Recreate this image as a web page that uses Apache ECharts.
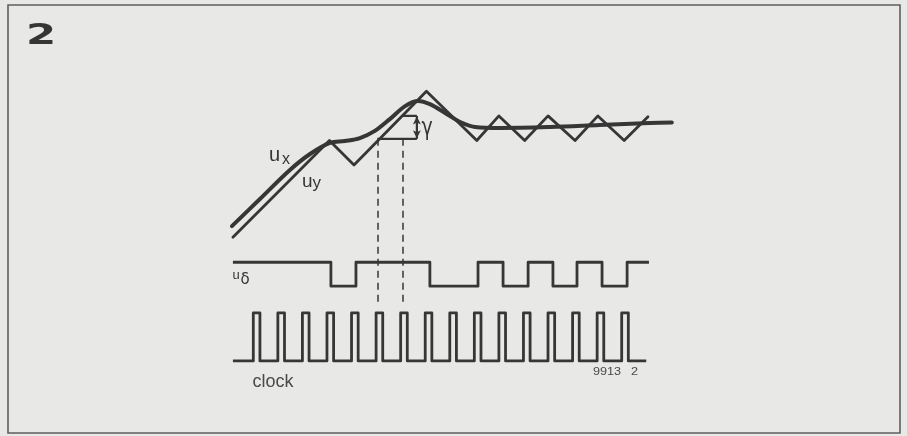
<!DOCTYPE html>
<html>
<head>
<meta charset="utf-8">
<script src="https://cdn.jsdelivr.net/npm/echarts/dist/echarts.min.js"></script>
<style>
  html, body { margin: 0; padding: 0; background: #e8e8e6; }
  #chart { width: 907px; height: 436px; }
</style>
</head>
<body>
<div id="chart"></div>
<script>
// time axis in clock periods, level axis in quantisation steps (gamma)
const uxT = [-0.87, 0.27, 1.49, 2.31, 3.12, 3.73, 4.34, 4.95, 5.56, 6.18, 6.71, 7.19, 7.81, 8.42, 9.03, 10.05, 12.08, 14.10, 16.14, 17.04];
const uxV = [-3.48, -2.38, -1.20, -0.55, -0.10, -0.02, 0.10, 0.39, 0.87, 1.40, 1.61, 1.48, 1.12, 0.75, 0.55, 0.51, 0.55, 0.63, 0.71, 0.73];

const uyT = [-0.83, 3.1, 4.1, 7.05, 9.1, 10.0, 11.05, 12.0, 13.1, 14.03, 15.1, 16.07];
const uyV = [-3.93, 0, -1, 2, 0, 1, 0, 1, 0, 1, 0, 0.97];

const uDeltaT = [-0.83, 3.16, 4.18, 7.19, 9.15, 10.17, 11.19, 12.2, 13.18, 14.2, 15.22, 16.11];
const uDeltaBit = [1, 0, 1, 0, 1, 0, 1, 0, 1, 0, 1, 1];

const clockRise = [0, 1, 2, 3, 4, 5, 6, 7, 8, 9, 10, 11, 12, 13, 14, 15];
const clockWidth = 0.27;
const clockStart = -0.83;
const clockEnd = 16.0;

const sampleT = [5.05, 6.08];
const sampleLevel = [0.07, 1.0];
const gammaX = 6.66;

// trace placement (layout)
const UD_LOW = -5.92, UD_HIGH = -4.95;
const CK_LOW = -8.96, CK_HIGH = -7.01;

const ink = '#363636';

const ux = uxT.map((t, i) => [t, uxV[i]]);
const uy = uyT.map((t, i) => [t, uyV[i]]);
const ud = uDeltaT.map((t, i) => [t, uDeltaBit[i] ? UD_HIGH : UD_LOW]);
const ck = [[clockStart, CK_LOW]];
clockRise.forEach(r => { ck.push([r, CK_HIGH]); ck.push([r + clockWidth, CK_LOW]); });
ck.push([clockEnd, CK_LOW]);

const chart = echarts.init(document.getElementById('chart'), null, { renderer: 'canvas' });

function txt(x, y, text, size, opts) {
  return Object.assign({
    type: 'text', x: x, y: y, z: 10,
    style: Object.assign({
      text: text, fontSize: size, fontFamily: 'Liberation Sans',
      fill: ink, align: 'left', verticalAlign: 'middle'
    }, (opts && opts.style) || {})
  }, (opts && opts.el) || {});
}

const option = {
  backgroundColor: '#e8e8e6',
  animation: false,
  grid: { left: 228.74, width: 454.36, top: 66.7, height: 319.8 },
  xAxis: { type: 'value', min: -1, max: 17.5, show: false },
  yAxis: { type: 'value', min: -10, max: 3, show: false },
  series: [
    {
      name: 'ux', type: 'line', data: ux, smooth: 0.35, symbol: 'none',
      lineStyle: { color: ink, width: 4, cap: 'round', join: 'round' }, z: 3
    },
    {
      name: 'uy', type: 'line', data: uy, symbol: 'none',
      lineStyle: { color: ink, width: 2.8, cap: 'round', join: 'round' }, z: 4
    },
    {
      name: 'udelta', type: 'line', data: ud, step: 'end', symbol: 'none',
      lineStyle: { color: ink, width: 2.8, join: 'round' }
    },
    {
      name: 'clock', type: 'line', data: ck, step: 'end', symbol: 'none',
      lineStyle: { color: ink, width: 2.8, join: 'round' }
    },
    {
      name: 'gammaTop', type: 'line', symbol: 'none',
      data: [[sampleT[1], sampleLevel[1]], [gammaX, sampleLevel[1]]],
      lineStyle: { color: ink, width: 2.2 }
    },
    {
      name: 'gammaBottom', type: 'line', symbol: 'none',
      data: [[sampleT[0], sampleLevel[0]], [gammaX, sampleLevel[0]]],
      lineStyle: { color: ink, width: 2.2 },
      markLine: {
        silent: true, animation: false,
        label: { show: false },
        data: [
          [{ coord: [sampleT[0], sampleLevel[0]], symbol: 'none' }, { coord: [sampleT[0], CK_HIGH + 0.25], symbol: 'none' }],
          [{ coord: [sampleT[1], sampleLevel[0]], symbol: 'none' }, { coord: [sampleT[1], CK_HIGH + 0.25], symbol: 'none' }]
        ],
        lineStyle: { color: ink, width: 1.5, type: [7, 5] }
      }
    },
    {
      name: 'gammaArrow', type: 'line', symbol: 'none',
      data: [[gammaX, sampleLevel[0]], [gammaX, sampleLevel[1]]],
      lineStyle: { color: ink, width: 2.2 },
      markLine: {
        silent: true, animation: false,
        label: { show: false },
        symbol: ['arrow', 'arrow'], symbolSize: [6, 8],
        data: [[{ coord: [gammaX, sampleLevel[0] + 0.02] }, { coord: [gammaX, sampleLevel[1] - 0.02] }]],
        lineStyle: { color: ink, width: 1.6, type: 'solid' },
        itemStyle: { color: ink }
      }
    }
  ],
  graphic: [
    { type: 'rect', z: 1, shape: { x: 8, y: 5, width: 892, height: 428 }, style: { fill: 'none', stroke: '#5e5e5e', lineWidth: 1.6 } },
    txt(26, 37, '2', 28, { style: { fontFamily: 'DejaVu Sans', fontWeight: 'bold', fill: '#353535' }, el: { scaleX: 1.55 } }),
    txt(269, 155.3, 'u', 20),
    txt(282, 159.5, 'x', 16),
    txt(302, 181.5, 'u', 19),
    txt(312.5, 183, 'y', 17),
    txt(232.5, 275, 'u', 13),
    txt(240.5, 280.5, 'δ', 15, { style: { fontFamily: 'DejaVu Sans' } }),
    txt(427, 129, 'γ', 19, { style: { fontFamily: 'DejaVu Sans', align: 'center' }, el: { scaleY: 1.3 } }),
    txt(252.5, 382.5, 'clock', 18, { style: { fill: '#4a4a4a' } }),
    txt(593, 371.5, '9913', 11, { style: { fill: '#4a4a4a' }, el: { scaleX: 1.15 } }),
    txt(631, 371.5, '2', 11, { style: { fill: '#4a4a4a' }, el: { scaleX: 1.15 } })
  ]
};
chart.setOption(option);
</script>
</body>
</html>
